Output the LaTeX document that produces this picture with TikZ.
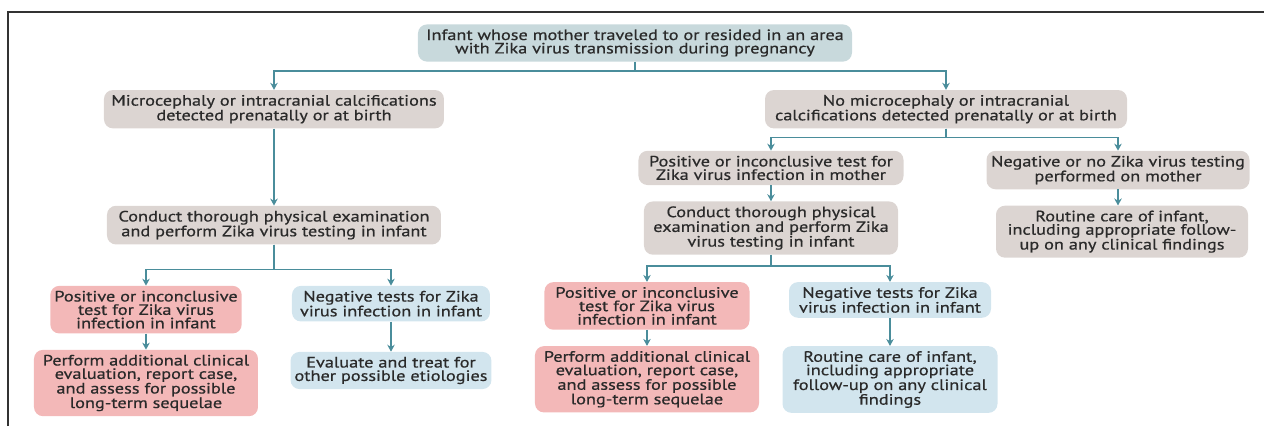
\documentclass[tikz,border=0pt]{standalone}
\usepackage{fontspec}
\setmainfont{PT Sans}[FakeStretch=1.22, FakeBold=0.6]
\usetikzlibrary{positioning, arrows.meta}

\definecolor{linkteal}{HTML}{4A8D9B}
\definecolor{rootblue}{HTML}{C8D9DC}
\definecolor{boxgray}{HTML}{DCD5D2}
\definecolor{boxred}{HTML}{F3B8B8}
\definecolor{boxblue}{HTML}{D2E5EE}
\definecolor{textgray}{HTML}{2A2A2A}

\begin{document}
\begin{tikzpicture}[x=1pt, y=1pt]
        \tikzset{
            >={Stealth[length=7pt, width=7.5pt]}, % small filled heads
            every node/.style={font=\fontsize{15}{13.4}\selectfont, text=textgray},
            box/.style={rounded corners=9pt, align=center, inner xsep=4pt, inner ysep=5pt},
            rootbox/.style={box, fill=rootblue},
            graybox/.style={box, fill=boxgray},
            redbox/.style={box, fill=boxred},
            bluebox/.style={box, fill=boxblue},
            link/.style={->, draw=linkteal, line width=1.5pt},
            }

        \useasboundingbox (-635,-383) rectangle (629,43);
        % frame
        \draw[line width=2.2pt, black!80] (-627,-383) -- (-627,31) -- (629,31);

        % nodes
        \node[rootbox, minimum width=434pt] (root) at (0,0) {Infant whose mother traveled to or resided in an area\\with Zika virus transmission during pregnancy};
        \node[graybox, minimum width=340pt, below=28pt of root, xshift=-361pt] (micro_box) {Microcephaly or intracranial calcifications\\detected prenatally or at birth};
        \node[graybox, minimum width=362pt, below=28pt of root, xshift=311pt] (nomicro_box) {No microcephaly or intracranial\\calcifications detected prenatally or at birth};

        % left branch
        \node[graybox, minimum width=334pt, below=77pt of micro_box] (exam_left) {Conduct thorough physical examination\\and perform Zika virus testing in infant};
        \node[redbox, minimum width=188pt, below=41pt of exam_left, xshift=-128pt] (pos_left) {Positive or inconclusive\\test for Zika virus\\infection in infant};
        \node[bluebox, minimum width=198pt, below=41pt of exam_left, xshift=117pt] (neg_left) {Negative tests for Zika\\virus infection in infant};
        \node[redbox, minimum width=224pt, below=16pt of pos_left] (eval_left) {Perform additional clinical\\evaluation, report case,\\and assess for possible\\long-term sequelae};
        \node[bluebox, minimum width=198pt, below=30pt of neg_left] (treat_left) {Evaluate and treat for\\other possible etiologies};

        % right branch
        \node[graybox, minimum width=265pt, below=22pt of nomicro_box, xshift=-175pt] (pos_mother) {Positive or inconclusive test for\\Zika virus infection in mother};
        \node[graybox, minimum width=263pt, below=22pt of nomicro_box, xshift=172pt] (neg_mother) {Negative or no Zika virus testing\\performed on mother};
        \node[graybox, minimum width=254pt, below=16pt of pos_mother] (exam_right) {Conduct thorough physical\\examination and perform Zika\\virus testing in infant};
        \node[graybox, minimum width=252pt, below=16pt of neg_mother, xshift=4pt] (care_mother) {Routine care of infant,\\including appropriate follow-\\up on any clinical findings};
        \node[redbox, minimum width=205pt, below=27pt of exam_right, xshift=-124pt] (pos_right) {Positive or inconclusive\\test for Zika virus\\infection in infant};
        \node[bluebox, minimum width=202pt, below=27pt of exam_right, xshift=119pt] (neg_right) {Negative tests for Zika\\virus infection in infant};
        \node[redbox, minimum width=224pt, below=16pt of pos_right] (eval_right) {Perform additional clinical\\evaluation, report case,\\and assess for possible\\long-term sequelae};
        \node[bluebox, minimum width=215pt, below=28pt of neg_right] (care_right) {Routine care of infant,\\including appropriate\\follow-up on any clinical\\findings};

        % root paths
        \draw[link] (root.south) -- ++(0,-9) -| (micro_box.north);
        \draw[link] (root.south) -- ++(0,-9) -| (nomicro_box.north);

        % left paths
        \draw[link] (micro_box) -- (exam_left);
        \draw[link] (exam_left.south) -- ++(0,-25) -| (pos_left.north);
        \draw[link] (exam_left.south) -- ++(0,-25) -| (neg_left.north);
        \draw[link] (pos_left) -- (eval_left);
        \draw[link] (neg_left) -- (treat_left);

        % right paths
        \draw[link] (nomicro_box.south) -- ++(0,-9) -| (pos_mother.north);
        \draw[link] (nomicro_box.south) -- ++(0,-9) -| (neg_mother.north);
        \draw[link] (pos_mother) -- (exam_right);
        \draw[link] (neg_mother.south) -- (care_mother.north -| neg_mother.south);
        \draw[link] (exam_right.south) -- ++(0,-11) -| (pos_right.north);
        \draw[link] (exam_right.south) -- ++(0,-11) -| (neg_right.north);
        \draw[link] (pos_right) -- (eval_right);
        \draw[link] (neg_right) -- (care_right);
    \end{tikzpicture}
\end{document}
